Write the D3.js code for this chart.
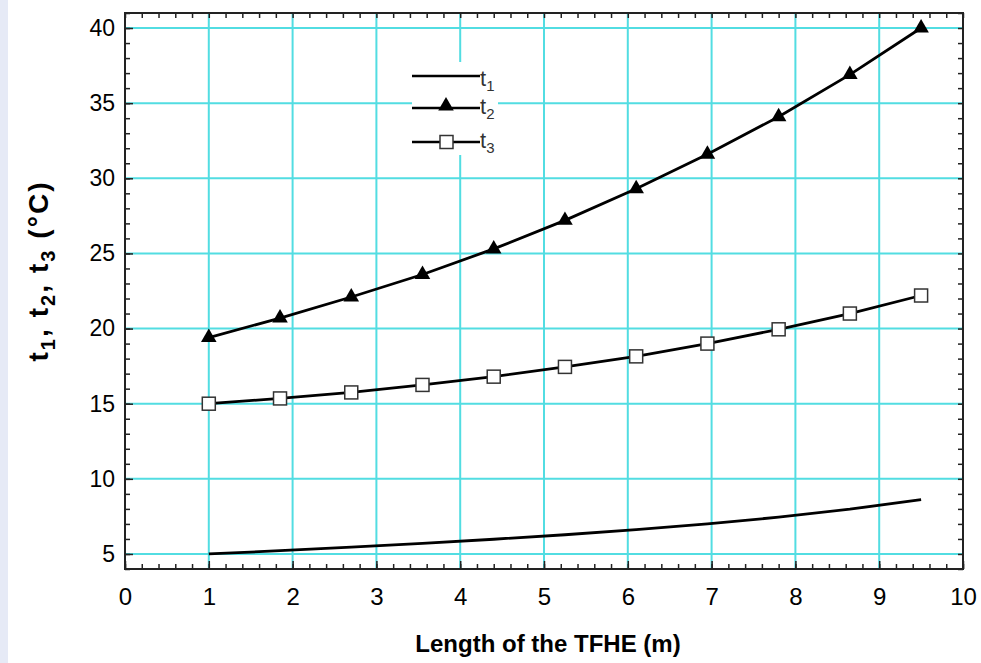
<!DOCTYPE html>
<html>
<head>
<meta charset="utf-8">
<script src="https://cdn.jsdelivr.net/npm/d3@7"></script>
<style>
  body { margin: 0; background: #fff; }
  svg { display: block; font-family: "Liberation Sans", Arial, sans-serif; }
</style>
</head>
<body>
<svg id="chart" width="981" height="663"></svg>
<script>
// data
const lengths = [1, 1.85, 2.7, 3.55, 4.4, 5.25, 6.1, 6.95, 7.8, 8.65, 9.5];
const t1 = [5.0, 5.22, 5.45, 5.7, 5.98, 6.28, 6.62, 7.0, 7.45, 7.98, 8.62];
const t2 = [19.4, 20.7, 22.1, 23.6, 25.3, 27.2, 29.3, 31.6, 34.1, 36.9, 40.0];
const t3 = [15.0, 15.35, 15.75, 16.25, 16.8, 17.45, 18.15, 19.0, 19.95, 21.0, 22.2];
const xTicks = [0, 1, 2, 3, 4, 5, 6, 7, 8, 9, 10];
const yTicks = [5, 10, 15, 20, 25, 30, 35, 40];

const svg = d3.select("svg#chart");
const W = 981, H = 663;
const m = { left: 125, right: 963, top: 13, bottom: 569 };

// light strip on the left edge
svg.append("rect").attr("x", 0).attr("y", 0).attr("width", 8).attr("height", H).attr("fill", "#e6eaf6");

const x = d3.scaleLinear().domain([0, 10]).range([m.left, m.right]);
const y = d3.scaleLinear().domain([4, 41]).range([m.bottom, m.top]);

const grid = svg.append("g").attr("stroke", "#52dde2").attr("stroke-width", 2);
grid.selectAll(".vx").data(xTicks.slice(1, -1)).enter().append("line")
  .attr("x1", d => x(d)).attr("x2", d => x(d)).attr("y1", m.top).attr("y2", m.bottom);
grid.selectAll(".hy").data(yTicks).enter().append("line")
  .attr("x1", m.left).attr("x2", m.right).attr("y1", d => y(d)).attr("y2", d => y(d));

// legend background hides grid under it
svg.append("rect").attr("x", 412).attr("y", 62).attr("width", 86).attr("height", 93).attr("fill", "#fff");

// axes with inward ticks
const minorX = d3.range(0, 10.001, 0.2);
const minorY = d3.range(4, 41.001, 1);
function addAxis(axis, tr) {
  const g = svg.append("g").attr("transform", tr).call(axis);
  g.select(".domain").remove();
  g.selectAll("line").attr("stroke", "#222").attr("stroke-width", 1.5);
  return g;
}
addAxis(d3.axisBottom(x).tickValues(minorX).tickSize(-5).tickFormat(""), `translate(0,${m.bottom})`);
addAxis(d3.axisTop(x).tickValues(minorX).tickSize(-5).tickFormat(""), `translate(0,${m.top})`);
addAxis(d3.axisLeft(y).tickValues(minorY).tickSize(-5).tickFormat(""), `translate(${m.left},0)`);
addAxis(d3.axisRight(y).tickValues(minorY).tickSize(-5).tickFormat(""), `translate(${m.right},0)`);

const xa = addAxis(d3.axisBottom(x).tickValues(xTicks).tickSize(-8).tickPadding(19).tickFormat(d3.format("d")), `translate(0,${m.bottom})`);
xa.selectAll("text").style("font-size", "24px").attr("fill", "#000");
const ya = addAxis(d3.axisLeft(y).tickValues(yTicks).tickSize(-8).tickPadding(10).tickFormat(d3.format("d")), `translate(${m.left},0)`);
ya.selectAll("text").style("font-size", "23px").attr("fill", "#000");

svg.append("rect").attr("x", m.left).attr("y", m.top)
  .attr("width", m.right - m.left).attr("height", m.bottom - m.top)
  .attr("fill", "none").attr("stroke", "#222").attr("stroke-width", 2);

// series
const line = d3.line().x(d => x(d[0])).y(d => y(d[1]));
[t1, t2, t3].forEach(s => {
  svg.append("path").datum(lengths.map((l, i) => [l, s[i]]))
    .attr("d", line).attr("fill", "none").attr("stroke", "#000").attr("stroke-width", 2.8);
});

const tri = d3.symbol().type(d3.symbolTriangle).size(105);
svg.selectAll(".tri").data(lengths.map((l, i) => [l, t2[i]])).enter().append("path")
  .attr("d", tri).attr("transform", d => `translate(${x(d[0])},${y(d[1])})`).attr("fill", "#000");

svg.selectAll(".sq").data(lengths.map((l, i) => [l, t3[i]])).enter().append("rect")
  .attr("x", d => x(d[0]) - 6.5).attr("y", d => y(d[1]) - 6.5).attr("width", 13).attr("height", 13)
  .attr("fill", "#fff").attr("stroke", "#333").attr("stroke-width", 1.5);

// legend
const legendRows = [
  { sub: "1", y: 76, base: 86, mark: null },
  { sub: "2", y: 108, base: 114, mark: "tri" },
  { sub: "3", y: 142, base: 148, mark: "sq" }
];
legendRows.forEach(r => {
  svg.append("line").attr("x1", 412).attr("x2", 480).attr("y1", r.y).attr("y2", r.y)
    .attr("stroke", "#000").attr("stroke-width", 2.5);
  if (r.mark === "tri") {
    svg.append("path").attr("d", tri).attr("transform", `translate(446,${r.y - 2})`).attr("fill", "#000");
  } else if (r.mark === "sq") {
    svg.append("rect").attr("x", 440).attr("y", r.y - 6.5).attr("width", 13).attr("height", 13)
      .attr("fill", "#fff").attr("stroke", "#333").attr("stroke-width", 1.5);
  }
  const t = svg.append("text").attr("x", 480).attr("y", r.base).style("font-size", "22px").attr("fill", "#333");
  t.append("tspan").text("t");
  t.append("tspan").style("font-size", "15px").attr("dy", 5).text(r.sub);
});

// axis titles
svg.append("text").attr("x", 548).attr("y", 652).attr("text-anchor", "middle")
  .style("font-size", "24px").attr("font-weight", "bold").text("Length of the TFHE (m)");

const yl = svg.append("text").attr("transform", "translate(48,272) rotate(-90)")
  .attr("text-anchor", "middle").style("font-size", "28px").attr("font-weight", "bold")
  .attr("textLength", 179).attr("lengthAdjust", "spacing");
[["t", "1", ", "], ["t", "2", ", "], ["t", "3", " (°C)"]].forEach(p => {
  yl.append("tspan").text(p[0]);
  yl.append("tspan").style("font-size", "20px").attr("dy", 7).text(p[1]);
  yl.append("tspan").attr("dy", -7).text(p[2]);
});
</script>
</body>
</html>
